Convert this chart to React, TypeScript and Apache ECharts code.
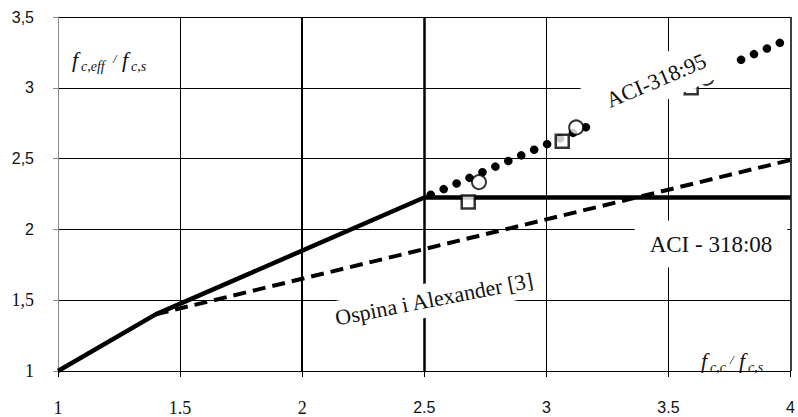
import React, { useEffect, useRef } from "react";
import * as echarts from "echarts";

// ACI 318-08 (solid)
const aci08X = [1, 1.4, 2.5, 4];
const aci08Y = [1, 1.4, 2.225, 2.225];
// Ospina i Alexander (dashed)
const ospX = [1.4, 4];
const ospY = [1.4, 2.49];
// ACI-318:95 (dotted)
const aci95X = [2.5, 4];
const aci95Y = [2.225, 3.35];
// test results
const squareX = [2.68, 3.065, 3.593];
const squareY = [2.194, 2.622, 3.0];
const circleX = [2.724, 3.122, 3.655];
const circleY = [2.334, 2.72, 3.07];
// vertical grid lines and their widths
const vGridX = [1.5, 2, 2.5, 3, 3.5, 4];
const vGridW = [1, 2, 2.5, 1, 1, 1.5];

const SERIF = '"Liberation Serif", "Times New Roman", serif';
const SANS = '"Liberation Sans", Arial, sans-serif';

const zip = (xs: number[], ys: number[]) => xs.map((x, i) => [x, ys[i]]);

function ratioLabel(x: number, y: number, sub1: string, sub2: string) {
  const items: any[] = [];
  const f = (px: number, py: number) => ({
    type: "text", x: px, y: py, z: 50,
    style: { text: "f", fontFamily: SERIF, fontStyle: "italic", fontSize: 22, fill: "#111", verticalAlign: "bottom" },
  });
  const s = (px: number, py: number, t: string) => ({
    type: "text", x: px, y: py, z: 50,
    style: { text: t, fontFamily: SERIF, fontStyle: "italic", fontSize: 14, fill: "#111", verticalAlign: "bottom" },
  });
  const w1 = sub1.length * 6;
  items.push(f(x, y));
  items.push(s(x + 9, y + 3, sub1));
  items.push({
    type: "text", x: x + 11 + w1, y: y - 5, z: 50,
    style: { text: "/", fontFamily: SERIF, fontStyle: "italic", fontSize: 13, fill: "#111", verticalAlign: "bottom" },
  });
  items.push(f(x + 20 + w1, y));
  items.push(s(x + 29 + w1, y + 3, sub2));
  return items;
}

export default function App() {
  const ref = useRef<HTMLDivElement>(null);
  useEffect(() => {
    if (!ref.current) return;
    document.body.style.margin = "0";
    document.body.style.overflow = "hidden";
    const chart = echarts.init(ref.current, null, { renderer: "svg" });
    const option: any = {
      animation: false,
      backgroundColor: "#fff",
      grid: { left: 58, right: 2, top: 17, bottom: 44, containLabel: false },
      xAxis: {
        type: "value", min: 1, max: 4, interval: 0.5,
        axisLine: { show: true, lineStyle: { color: "#000", width: 1 } },
        axisTick: { show: true, length: 6, lineStyle: { color: "#000" } },
        splitLine: { show: false },
        axisLabel: {
          margin: 28, fontSize: 17, color: "#111",
          formatter: (v: number) => (v < 2.5 ? `{s|${v}}` : `{n|${v}}`),
          rich: { s: { fontFamily: SERIF, fontSize: 18, color: "#111" }, n: { fontFamily: SANS, fontSize: 16, color: "#111" } },
        },
      },
      yAxis: {
        type: "value", min: 1, max: 3.5, interval: 0.5,
        axisLine: { show: true, lineStyle: { color: "#888", width: 1 } },
        axisTick: { show: true, length: 5, lineStyle: { color: "#888" } },
        splitLine: { show: true, lineStyle: { color: "#000", width: 1 } },
        axisLabel: {
          margin: 24, color: "#111",
          formatter: (v: number) => {
            const t = String(v).replace(".", ",");
            return v <= 1.5 ? `{s|${t}}` : `{n|${t}}`;
          },
          rich: { s: { fontFamily: SERIF, fontSize: 18, color: "#111" }, n: { fontFamily: SANS, fontSize: 16, color: "#111" } },
        },
      },
      series: [
        {
          type: "line", data: [], z: 1, silent: true,
          markLine: {
            symbol: "none", silent: true, label: { show: false },
            data: vGridX.map((v, i) => ({ xAxis: v, lineStyle: { color: "#000", width: vGridW[i], type: "solid" } })),
          },
        },
        {
          name: "ACI - 318:08", type: "line", z: 3, showSymbol: false, symbol: "none",
          data: zip(aci08X, aci08Y),
          lineStyle: { color: "#000", width: 4.5, type: "solid" },
        },
        {
          name: "Ospina i Alexander", type: "line", z: 3, showSymbol: false, symbol: "none",
          data: zip(ospX, ospY),
          lineStyle: { color: "#000", width: 4, type: [13, 7] },
        },
        {
          name: "ACI-318:95", type: "line", z: 3, showSymbol: false, symbol: "none",
          data: zip(aci95X, aci95Y),
          lineStyle: { color: "#000", width: 8.5, type: [0.1, 14], cap: "round", dashOffset: -7 },
        },
        {
          type: "scatter", z: 4, symbol: "rect", symbolSize: 13,
          data: zip(squareX, squareY),
          itemStyle: { color: "#fff", borderColor: "#000", borderWidth: 2.5 },
        },
        {
          type: "scatter", z: 4, symbol: "circle", symbolSize: 14,
          data: zip(circleX, circleY),
          itemStyle: { color: "#fff", borderColor: "#000", borderWidth: 2 },
        },
      ],
      graphic: [
        {
          type: "text", x: 657, y: 80, rotation: (23 * Math.PI) / 180, z: 100,
          style: {
            text: "ACI-318:95", fontFamily: SERIF, fontSize: 22, fill: "#111",
            align: "center", verticalAlign: "middle",
            backgroundColor: "#fff", padding: [4, 24, 18, 22],
          },
        },
        {
          type: "text", x: 434, y: 299, rotation: (11 * Math.PI) / 180, z: 100,
          style: {
            text: "Ospina i Alexander [3]", fontFamily: SERIF, fontSize: 22, fill: "#111",
            align: "center", verticalAlign: "middle",
            backgroundColor: "#fff", padding: [6, 8, 6, 8],
          },
        },
        {
          type: "text", x: 711, y: 244, z: 100,
          style: {
            text: "ACI - 318:08", fontFamily: SERIF, fontSize: 23, fill: "#111",
            align: "center", verticalAlign: "middle",
            backgroundColor: "#fff", padding: [12, 15, 12, 15],
          },
        },
        ...ratioLabel(72, 70, "c,eff", "c,s"),
        ...ratioLabel(701, 371, "c,c", "c,s"),
      ],
    };
    chart.setOption(option);
    return () => chart.dispose();
  }, []);
  return (
    <div
      ref={ref}
      style={{ position: "absolute", left: 0, top: 0, width: 798, height: 417 }}
    />
  );
}
